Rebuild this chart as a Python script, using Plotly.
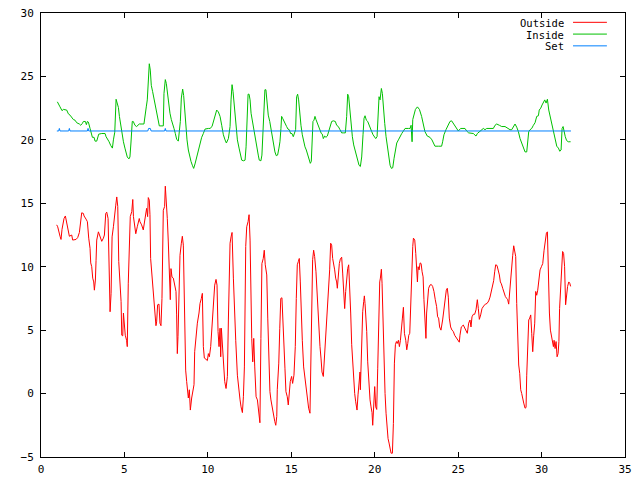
import plotly.graph_objects as go

# ---------------------------------------------------------
# DATA (day of month vs degC)
# ---------------------------------------------------------
outside_t = [
    0.94, 1.00, 1.14, 1.20, 1.26, 1.38, 1.46, 1.54, 1.64, 1.70, 1.84, 1.90, 2.10, 2.20, 2.30, 2.34,
    2.44, 2.54, 2.58, 2.70, 2.78, 2.86, 2.94, 2.98, 3.04, 3.10, 3.16, 3.20, 3.26, 3.30, 3.34, 3.44,
    3.54, 3.64, 3.74, 3.80, 3.88, 3.94, 4.02, 4.08, 4.14, 4.20, 4.26, 4.34, 4.40, 4.48, 4.54, 4.60,
    4.66, 4.74, 4.80, 4.84, 4.90, 4.94, 4.99, 5.05, 5.13, 5.17, 5.23, 5.29, 5.35, 5.44, 5.50, 5.54,
    5.63, 5.68, 5.77, 5.89, 5.93, 6.03, 6.13, 6.23, 6.29, 6.33, 6.39, 6.43, 6.49, 6.53, 6.57, 6.63,
    6.69, 6.77, 6.83, 6.89, 6.93, 6.99, 7.07, 7.13, 7.19, 7.25, 7.33, 7.41, 7.45, 7.51, 7.57, 7.63,
    7.67, 7.71, 7.75, 7.79, 7.85, 7.93, 8.01, 8.09, 8.13, 8.17, 8.21, 8.27, 8.33, 8.41, 8.47, 8.53,
    8.59, 8.67, 8.73, 8.83, 8.89, 8.95, 9.03, 9.09, 9.17, 9.21, 9.29, 9.37, 9.47, 9.53, 9.61, 9.67,
    9.73, 9.79, 9.89, 9.97, 10.03, 10.09, 10.17, 10.23, 10.29, 10.35, 10.41, 10.49, 10.55, 10.61,
    10.67, 10.73, 10.77, 10.81, 10.87, 10.93, 11.01, 11.09, 11.17, 11.23, 11.29, 11.33, 11.39,
    11.45, 11.53, 11.59, 11.67, 11.77, 11.85, 11.93, 11.99, 12.07, 12.13, 12.19, 12.27, 12.33,
    12.41, 12.47, 12.53, 12.57, 12.63, 12.69, 12.75, 12.81, 12.89, 12.97, 13.02, 13.08, 13.12,
    13.18, 13.24, 13.32, 13.38, 13.44, 13.53, 13.59, 13.65, 13.72, 13.78, 13.86, 13.92, 14.01,
    14.07, 14.13, 14.16, 14.25, 14.31, 14.37, 14.44, 14.50, 14.56, 14.62, 14.68, 14.76, 14.82,
    14.88, 14.94, 15.02, 15.08, 15.16, 15.24, 15.30, 15.36, 15.42, 15.48, 15.54, 15.60, 15.66,
    15.74, 15.82, 15.90, 15.96, 16.04, 16.12, 16.18, 16.24, 16.28, 16.34, 16.40, 16.48, 16.54,
    16.60, 16.66, 16.72, 16.78, 16.84, 16.92, 16.98, 17.04, 17.12, 17.18, 17.24, 17.30, 17.36,
    17.42, 17.48, 17.54, 17.60, 17.66, 17.72, 17.76, 17.82, 17.88, 17.94, 18.02, 18.08, 18.14,
    18.20, 18.26, 18.32, 18.38, 18.44, 18.50, 18.56, 18.62, 18.68, 18.74, 18.80, 18.86, 18.94,
    19.00, 19.06, 19.12, 19.14, 19.22, 19.28, 19.34, 19.38, 19.42, 19.52, 19.58, 19.64, 19.72,
    19.78, 19.84, 19.88, 19.94, 20.00, 20.06, 20.12, 20.18, 20.24, 20.30, 20.34, 20.40, 20.44,
    20.50, 20.56, 20.62, 20.68, 20.74, 20.80, 20.86, 20.92, 20.98, 21.06, 21.12, 21.18, 21.24,
    21.30, 21.35, 21.42, 21.48, 21.54, 21.60, 21.66, 21.72, 21.78, 21.86, 21.92, 21.98, 22.04,
    22.10, 22.16, 22.22, 22.28, 22.32, 22.40, 22.46, 22.52, 22.56, 22.60, 22.66, 22.72, 22.78,
    22.84, 22.90, 22.95, 23.01, 23.07, 23.11, 23.17, 23.23, 23.31, 23.39, 23.47, 23.55, 23.63,
    23.71, 23.77, 23.83, 23.89, 23.97, 24.07, 24.13, 24.21, 24.29, 24.35, 24.41, 24.47, 24.55,
    24.63, 24.71, 24.79, 24.87, 24.95, 25.03, 25.07, 25.11, 25.19, 25.31, 25.39, 25.47, 25.55,
    25.63, 25.71, 25.77, 25.83, 25.91, 25.99, 26.07, 26.15, 26.21, 26.27, 26.35, 26.43, 26.53,
    26.63, 26.73, 26.83, 26.91, 26.99, 27.07, 27.13, 27.19, 27.25, 27.33, 27.41, 27.47, 27.53,
    27.59, 27.67, 27.75, 27.83, 27.91, 27.97, 28.03, 28.09, 28.15, 28.21, 28.27, 28.33, 28.39,
    28.45, 28.51, 28.57, 28.63, 28.69, 28.75, 28.81, 28.87, 28.93, 29.01, 29.07, 29.11, 29.17,
    29.23, 29.29, 29.35, 29.41, 29.47, 29.53, 29.59, 29.65, 29.71, 29.77, 29.85, 29.91, 29.99,
    30.07, 30.15, 30.23, 30.29, 30.35, 30.41, 30.47, 30.53, 30.59, 30.65, 30.71, 30.75, 30.81,
    30.87, 30.93, 30.99, 31.04, 31.08, 31.14, 31.20, 31.26, 31.32, 31.38, 31.44, 31.50, 31.56,
    31.63, 31.69, 31.74,
]
outside_temp = [
    13.3, 13.15, 12.4, 12.15, 12.95, 13.8, 14.0, 13.5, 12.9, 12.4, 12.5, 12.1, 12.15, 12.3, 12.7, 13.3,
    14.25, 14.2, 14.0, 13.75, 13.55, 12.25, 11.45, 10.3, 10.0, 9.1, 8.8, 8.15, 8.95, 10.5, 12.1, 12.75,
    12.35, 12.0, 12.25, 12.5, 14.2, 14.3, 13.8, 10.0, 6.45, 7.9, 12.35, 13.15, 14.2, 14.85, 15.5, 14.75,
    10.4, 8.55, 7.25, 4.6, 4.55, 6.35, 5.55, 4.6, 4.2, 3.7, 8.7, 11.2, 13.95, 14.35, 15.3, 13.95,
    12.7, 12.6, 13.15, 13.8, 13.55, 13.3, 12.9, 13.8, 13.95, 14.6, 13.95, 15.45, 15.25, 14.1, 10.65, 9.6,
    8.15, 7.4, 6.05, 5.35, 5.65, 7.0, 7.05, 5.55, 5.35, 7.5, 14.45, 14.75, 16.35, 15.25, 13.8, 11.95,
    10.0, 9.5, 7.4, 9.85, 9.2, 9.1, 8.45, 8.05, 6.2, 3.15, 4.5, 6.85, 10.9, 11.85, 12.4, 11.7,
    6.05, 1.85, 0.95, -0.35, 0.3, -1.3, -0.35, 0.15, 0.7, 3.3, 4.6, 5.55, 6.35, 7.1, 7.5, 7.9,
    3.7, 2.8, 2.7, 2.6, 3.15, 2.9, 3.7, 4.75, 6.45, 7.0, 8.55, 9.0, 8.55, 4.9,
    3.7, 5.15, 2.9, 5.15, 3.95, 2.0, 0.95, 0.4, 1.35, 5.8, 8.95, 11.85, 12.35,
    12.7, 9.1, 6.2, 4.2, 1.45, 0.15, -0.5, -1.05, -1.5, -0.25, 2.1, 11.6, 13.15,
    13.55, 14.1, 12.1, 7.5, 4.35, 2.5, 4.35, 2.1, -0.25, -0.5, -1.15, -1.55, -2.3,
    4.35, 10.25, 10.65, 11.3, 10.15, 9.35, 5.95, 3.15, 0.15, -0.5, -1.15, -1.8, -2.2,
    -2.5, -1.8, 0.3, 2.4, 5.15, 7.5, 7.55, 6.05, 4.1, 2.0, 0.15, -0.25, -0.9,
    -0.2, 0.95, 1.35, 0.8, 1.45, 3.7, 7.5, 10.15, 10.4, 10.65, 8.8, 6.2, 4.2,
    2.1, 1.2, 0.3, -0.5, -1.15, -1.55, 2.65, 7.4, 10.55, 11.3, 10.8, 9.6, 8.05,
    6.2, 5.15, 3.7, 2.8, 1.7, 1.35, 2.65, 4.6, 5.4, 7.1, 8.3, 9.75, 11.85,
    11.7, 10.65, 10.25, 9.75, 9.1, 8.8, 8.3, 9.75, 10.25, 10.6, 10.75, 9.5, 7.4,
    6.7, 8.05, 9.2, 9.85, 10.15, 8.55, 6.35, 3.85, 2.25, 1.05, 0.0, -0.65, -1.3,
    -0.1, 0.95, 1.7, 0.3, 5.0, 6.45, 7.25, 7.7, 7.1, 4.9, 2.5, 1.05, -0.5,
    -1.05, -1.5, -2.5, -1.05, 0.55, -1.05, -1.25, 2.0, 7.1, 8.8, 9.1, 9.8, 8.7,
    5.4, 1.7, 0.0, -1.55, -2.75, -3.55, -3.9, -4.45, -4.7, -4.7, -2.35, 2.4, 3.85,
    4.1, 3.95, 4.2, 3.7, 4.2, 5.4, 5.95, 6.8, 4.75, 4.2, 3.45, 3.95, 4.6,
    4.75, 7.65, 10.0, 11.6, 12.25, 12.1, 11.05, 9.75, 8.8, 10.0, 9.75, 10.3, 10.25,
    9.6, 9.2, 7.4, 5.95, 4.35, 6.35, 7.65, 8.3, 8.55, 8.6, 8.45, 8.05, 7.4,
    6.85, 6.05, 5.95, 5.25, 5.0, 5.8, 6.6, 7.4, 8.15, 8.3, 7.6, 5.95, 5.25,
    5.0, 4.9, 4.6, 4.45, 4.3, 4.2, 4.05, 4.6, 5.25, 5.4, 5.15, 4.9, 4.75,
    5.55, 5.8, 5.25, 6.05, 6.25, 6.25, 6.6, 7.4, 6.7, 5.85, 6.2, 6.7, 6.9,
    7.05, 7.1, 7.3, 7.6, 8.05, 8.45, 8.9, 9.6, 10.15, 10.1, 9.75, 9.35, 8.8,
    8.65, 8.3, 7.9, 7.65, 7.5, 7.4, 7.05, 8.15, 9.5, 10.0, 10.9, 11.65, 11.05,
    10.8, 7.1, 4.5, 2.25, 1.6, 0.3, 0.0, -0.5, -0.75, -1.15, -1.1, 1.45, 3.05,
    5.8, 5.95, 6.2, 4.75, 3.3, 4.6, 5.55, 8.05, 7.75, 8.15, 8.95, 9.75, 10.0,
    10.25, 11.3, 12.1, 12.65, 12.75, 7.65, 6.35, 5.0, 4.6, 3.95, 3.7, 4.2, 3.55,
    4.1, 2.9, 3.15, 4.1, 6.7, 8.3, 10.15, 11.2, 11.05, 10.0, 7.0, 7.9, 8.45,
    8.8, 8.7, 8.45,
]

inside_t = [
    0.98, 1.06, 1.14, 1.26, 1.34, 1.54, 1.64, 1.74, 1.84, 1.94, 2.04, 2.14, 2.30, 2.38, 2.48, 2.54,
    2.66, 2.72, 2.78, 2.84, 2.94, 3.00, 3.08, 3.18, 3.24, 3.34, 3.40, 3.46, 3.64, 3.84, 3.90, 4.00,
    4.08, 4.18, 4.28, 4.34, 4.42, 4.50, 4.58, 4.64, 4.70, 4.78, 4.84, 4.94, 5.03, 5.09, 5.17, 5.27,
    5.33, 5.39, 5.47, 5.53, 5.63, 5.73, 5.89, 6.17, 6.25, 6.31, 6.37, 6.43, 6.49, 6.55, 6.61, 6.69,
    6.77, 6.85, 6.93, 7.01, 7.09, 7.19, 7.33, 7.37, 7.45, 7.51, 7.57, 7.65, 7.73, 7.81, 7.89, 7.97,
    8.05, 8.13, 8.23, 8.29, 8.35, 8.41, 8.49, 8.55, 8.61, 8.67, 8.75, 8.83, 8.91, 8.99, 9.07, 9.15,
    9.23, 9.33, 9.43, 9.53, 9.63, 9.73, 9.83, 10.03, 10.13, 10.25, 10.33, 10.43, 10.53, 10.63,
    10.73, 10.83, 10.93, 11.03, 11.11, 11.23, 11.33, 11.39, 11.45, 11.51, 11.57, 11.69, 11.77,
    11.87, 11.95, 12.03, 12.13, 12.23, 12.29, 12.35, 12.41, 12.47, 12.53, 12.59, 12.67, 12.75,
    12.83, 12.93, 13.02, 13.08, 13.18, 13.24, 13.30, 13.36, 13.42, 13.48, 13.54, 13.62, 13.71,
    13.79, 13.86, 13.94, 14.02, 14.10, 14.18, 14.26, 14.32, 14.38, 14.42, 14.48, 14.56, 14.64,
    14.72, 14.80, 14.88, 14.96, 15.04, 15.12, 15.20, 15.26, 15.32, 15.38, 15.44, 15.50, 15.58,
    15.66, 15.74, 15.82, 15.90, 15.98, 16.06, 16.14, 16.20, 16.24, 16.30, 16.36, 16.42, 16.48,
    16.56, 16.64, 16.72, 16.80, 16.86, 16.92, 17.00, 17.08, 17.16, 17.24, 17.32, 17.42, 17.52,
    17.64, 17.72, 17.82, 17.92, 18.02, 18.12, 18.24, 18.32, 18.38, 18.44, 18.50, 18.58, 18.66,
    18.74, 18.82, 18.90, 18.98, 19.06, 19.14, 19.22, 19.30, 19.36, 19.42, 19.50, 19.58, 19.66,
    19.74, 19.82, 19.90, 19.98, 20.06, 20.14, 20.20, 20.26, 20.32, 20.40, 20.46, 20.52, 20.60,
    20.68, 20.76, 20.84, 20.92, 21.00, 21.08, 21.16, 21.24, 21.32, 21.42, 21.52, 21.62, 21.72,
    21.82, 22.02, 22.12, 22.18, 22.24, 22.28, 22.36, 22.44, 22.56, 22.68, 22.81, 22.91, 23.01,
    23.15, 23.31, 23.43, 23.51, 23.61, 23.81, 24.01, 24.07, 24.15, 24.27, 24.39, 24.51, 24.61,
    24.71, 24.85, 25.01, 25.15, 25.41, 25.51, 25.63, 25.91, 26.07, 26.15, 26.31, 26.51, 26.61,
    26.71, 26.91, 27.11, 27.21, 27.31, 27.47, 27.61, 27.81, 27.95, 28.11, 28.21, 28.30, 28.41,
    28.51, 28.61, 28.71, 28.81, 28.91, 29.01, 29.11, 29.17, 29.23, 29.31, 29.41, 29.51, 29.61,
    29.71, 29.81, 29.86, 29.95, 30.03, 30.11, 30.19, 30.27, 30.35, 30.43, 30.51, 30.59, 30.67,
    30.75, 30.83, 30.91, 31.01, 31.09, 31.17, 31.23, 31.29, 31.34, 31.42, 31.50, 31.60, 31.74,
]
inside_temp = [
    23.0, 22.85, 22.6, 22.3, 22.4, 22.35, 22.05, 21.95, 21.8, 21.6, 21.55, 21.35, 21.25, 21.15, 21.3, 21.45,
    21.45, 21.2, 21.45, 21.4, 20.9, 20.65, 20.2, 20.2, 19.9, 19.9, 20.2, 20.45, 20.5, 20.5, 20.25, 20.05,
    19.85, 19.55, 19.35, 20.0, 20.6, 23.2, 22.9, 22.55, 21.85, 21.15, 20.45, 19.85, 19.35, 19.0, 18.65, 18.5,
    18.65, 19.75, 21.45, 21.45, 21.15, 21.05, 21.25, 21.25, 21.85, 22.6, 23.15, 25.35, 26.0, 25.5, 24.3, 23.8,
    23.3, 22.75, 22.2, 21.7, 21.1, 21.1, 21.1, 23.65, 24.75, 24.45, 23.65, 22.75, 22.1, 21.6, 21.3, 20.9,
    20.5, 20.05, 19.9, 20.6, 21.45, 23.3, 24.0, 23.5, 22.35, 21.15, 20.0, 19.2, 18.65, 18.3, 18.0, 17.75,
    18.1, 18.65, 19.25, 19.85, 20.2, 20.5, 20.85, 20.9, 20.9, 21.05, 21.45, 21.95, 22.35, 22.2,
    21.85, 21.15, 20.4, 20.0, 19.75, 20.1, 21.05, 23.15, 24.35, 23.8, 22.9, 21.05, 20.0,
    19.35, 18.9, 18.4, 18.35, 18.4, 19.45, 21.3, 23.6, 23.6, 23.15, 22.1, 21.45, 20.8,
    20.0, 19.35, 18.8, 18.4, 18.35, 18.8, 20.65, 22.2, 23.95, 23.95, 22.9, 21.95, 21.45,
    20.8, 20.25, 19.6, 19.05, 18.75, 18.8, 19.35, 19.85, 20.9, 21.85, 21.7, 21.45, 21.15,
    21.05, 20.85, 20.8, 20.5, 20.5, 20.25, 20.55, 20.8, 23.4, 23.6, 23.15, 22.1, 21.15,
    20.4, 19.85, 19.45, 19.2, 18.8, 18.4, 18.15, 18.3, 20.25, 21.45, 21.55, 21.85, 21.6,
    21.3, 21.05, 20.7, 20.5, 20.45, 20.1, 20.3, 20.2, 20.3, 20.65, 21.05, 21.45, 21.5,
    21.45, 21.15, 21.05, 20.8, 20.55, 20.55, 20.55, 21.85, 23.6, 23.4, 22.35, 21.05, 20.25,
    19.6, 19.2, 18.65, 18.3, 18.0, 17.9, 18.65, 20.4, 21.7, 21.9, 21.55, 21.45, 21.15,
    20.8, 20.65, 20.4, 20.2, 20.1, 20.25, 22.6, 23.4, 23.15, 24.05, 23.65, 22.2, 21.3,
    20.25, 19.45, 18.65, 18.0, 17.75, 17.8, 18.55, 19.2, 19.75, 20.0, 20.3, 20.5, 20.7,
    20.9, 20.9, 20.9, 21.15, 19.85, 21.6, 22.1, 22.4, 22.6, 22.4, 21.85, 21.15, 20.65,
    20.3, 20.2, 20.0, 19.75, 19.5, 19.5, 19.5, 19.85, 20.4, 20.8, 21.15, 21.45, 21.5,
    21.3, 21.0, 20.7, 20.9, 20.9, 20.7, 20.55, 20.5, 20.3, 20.5, 20.65, 20.9, 20.8,
    20.9, 20.9, 20.9, 21.15, 21.25, 21.15, 21.05, 21.05, 20.9, 20.8, 20.8, 21.05, 21.25,
    21.0, 20.65, 20.1, 19.75, 19.35, 19.05, 19.05, 19.75, 20.65, 20.8, 20.9, 21.15, 21.35,
    21.85, 21.9, 22.35, 22.5, 22.75, 23.0, 23.15, 22.9, 23.2, 22.35, 21.85, 21.3, 20.8,
    20.4, 20.0, 19.5, 19.35, 19.1, 19.2, 20.9, 21.05, 20.65, 20.25, 19.95, 19.85, 19.85,
]

set_t = [0.95, 1.06, 1.10, 1.14, 1.66, 1.70, 1.74, 2.78, 2.82, 2.86,
         6.40, 6.45, 6.55, 6.60, 7.41, 7.45, 7.49, 31.76]
set_temp = [20.7, 20.7, 20.9, 20.7, 20.7, 20.9, 20.7, 20.7, 20.9, 20.7,
            20.7, 20.9, 20.9, 20.7, 20.7, 20.9, 20.7, 20.7]

series_names = ["Outside", "Inside", "Set"]
series_colors = ["#ff0000", "#00c000", "#0080ff"]

x_ticks = [0, 5, 10, 15, 20, 25, 30, 35]
y_ticks = [-5, 0, 5, 10, 15, 20, 25, 30]

FONT = "DejaVu Sans Mono"

# ---------------------------------------------------------
# FIGURE
# the page body has an 8px default margin, so the figure is
# shrunk by that much and the margins are shifted to match
# ---------------------------------------------------------
fig = go.Figure()
for name, color, xs, ys in zip(series_names, series_colors,
                               [outside_t, inside_t, set_t],
                               [outside_temp, inside_temp, set_temp]):
    fig.add_trace(go.Scatter(x=xs, y=ys, mode="lines", name=name,
                             line=dict(color=color, width=1), showlegend=False))

# gnuplot style key: right-aligned label, line sample to the right
for i, (name, color) in enumerate(zip(series_names, series_colors)):
    ky = 0.979 - i * 0.0265
    fig.add_annotation(x=0.897, y=ky, xref="paper", yref="paper", text=name,
                       showarrow=False, xanchor="right", yanchor="middle",
                       height=9, borderpad=0,
                       font=dict(family=FONT, size=10.5, color="black"))
    fig.add_shape(type="line", xref="paper", yref="paper", x0=0.911, x1=0.969,
                  y0=ky, y1=ky, line=dict(color=color, width=1))

axis_style = dict(showgrid=False, zeroline=False, showline=True, linecolor="black",
                  linewidth=1, mirror="ticks", ticks="inside", ticklen=5,
                  tickcolor="black", automargin=False, ticklabeloverflow="allow",
                  tickfont=dict(family=FONT, size=11, color="black"))

fig.update_xaxes(range=[0, 35], tickvals=x_ticks, ticklabelstandoff=2, **axis_style)
fig.update_yaxes(range=[-5, 30], tickvals=y_ticks, ticklabelstandoff=4, **axis_style)

fig.update_layout(
    width=632, height=472,
    margin=dict(l=33, r=15, t=5, b=23),
    plot_bgcolor="white", paper_bgcolor="white",
    showlegend=False,
)

fig.write_html("out.html")
